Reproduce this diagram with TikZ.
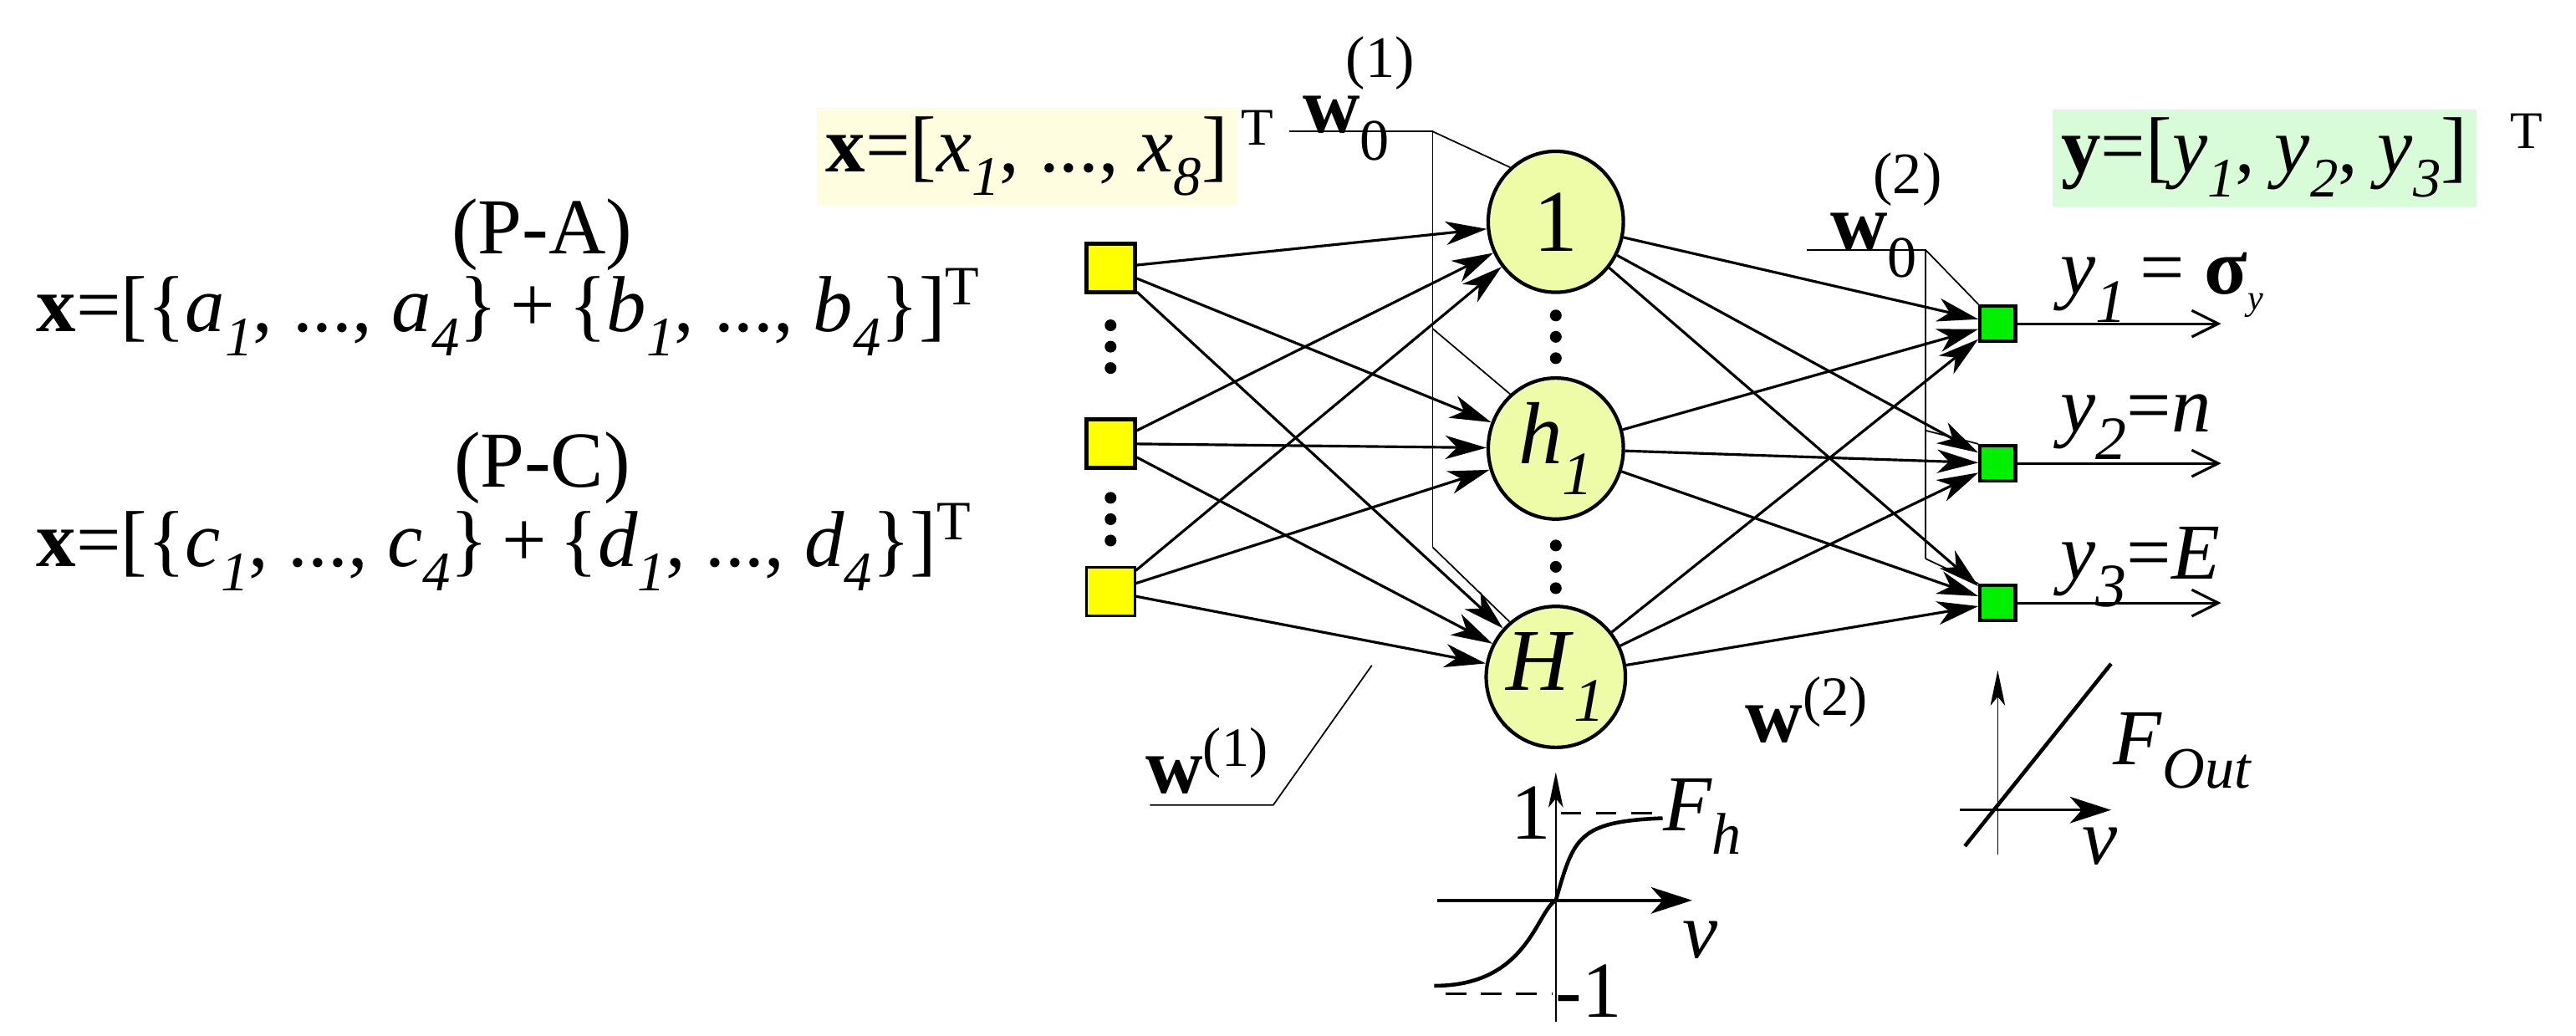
\documentclass[tikz,border=0pt]{standalone}
\usepackage{fontspec}
\setmainfont{Liberation Serif}
\usetikzlibrary{arrows.meta,shapes.geometric}
\definecolor{hid}{HTML}{EEFCA8}
\definecolor{inp}{HTML}{FFFF00}
\definecolor{outc}{HTML}{00F000}
\definecolor{xbg}{HTML}{FEFDE0}
\definecolor{ybg}{HTML}{D8FBD8}
\newcommand{\ti}[1]{\textit{#1}}
\newcommand{\sbi}[1]{\raisebox{-0.3em}{\fontsize{19}{20}\selectfont\textit{#1}}}
\newcommand{\lowsub}[1]{\raisebox{-0.35em}{\fontsize{21}{21}\selectfont\textit{#1}}}
\begin{document}
\begin{tikzpicture}[x=0.01965cm,y=-0.01965cm,
  font=\fontsize{27}{30}\selectfont,
  conn/.style={line width=0.9pt,-{Stealth[length=14pt,width=8pt,inset=4pt]}},
  thin/.style={line width=0.5pt},
  hnode/.style={ellipse,draw,line width=1.2pt,fill=hid,minimum width=46pt,minimum height=48pt,inner sep=0pt,font=\fontsize{30}{30}\selectfont},
  inode/.style={rectangle,draw,line width=1.4pt,fill=inp,minimum size=16.5pt,inner sep=0pt},
  onode/.style={rectangle,draw,line width=1.2pt,fill=outc,minimum size=12pt,inner sep=0pt},
  dot/.style={circle,fill,inner sep=0pt,minimum size=4pt}]
\useasboundingbox (0,0) rectangle (1568,630.5);
% left text
\node (pa) at (330,143) {(P-A)};
\node[anchor=west] (xa) at (16,190) {\textbf{x}=[\{\ti{a}\sbi{1}, ..., \ti{a}\sbi{4}\}\,+\,\{\ti{b}\sbi{1}, ..., \ti{b}\sbi{4}\}]\textsuperscript{T}};
\node (pc) at (330,285) {(P-C)};
\node[anchor=west] (xc) at (16,333) {\textbf{x}=[\{\ti{c}\sbi{1}, ..., \ti{c}\sbi{4}\}\,+\,\{\ti{d}\sbi{1}, ..., \ti{d}\sbi{4}\}]\textsuperscript{T}};
% input / output vector labels
\node[fill=xbg,anchor=west,inner sep=3pt] (xl) at (497,95) {\textbf{x}=[\ti{x}\sbi{1}, ..., \ti{x}\sbi{8}]};
\node[anchor=north west,inner sep=1pt] (xt) at (xl.north east) {\fontsize{18}{20}\selectfont T};
\node[fill=ybg,anchor=west,inner sep=3pt] (yl) at (1249,96) {\textbf{y}=[\ti{y}\sbi{1}, \ti{y}\sbi{2}, \ti{y}\sbi{3}]};
\node (yt) at (1538,80) {\fontsize{18}{20}\selectfont T};
% nodes
\node[inode] (i1) at (676,163) {};
\node[inode] (i2) at (676,270) {};
\node[inode,line width=0.7pt] (i3) at (676,360) {};
\foreach \y in {198,211,224,303,316,329} \node[dot] at (676,\y) {};
\node[hnode] (h1) at (947,135) {1};
\node[hnode] (h2) at (947,273) {\ti{h}\lowsub{1}};
\node[hnode] (h3) at (947,412) {\ti{H}\lowsub{1}};
\foreach \y in {192,205,218,332,345,358} \node[dot] at (947,\y) {};
\node[onode] (o1) at (1216,197) {};
\node[onode] (o2) at (1216,282) {};
\node[onode] (o3) at (1216,367) {};
\foreach \i in {i1,i2,i3} \foreach \h in {h1,h2,h3} \draw[conn] (\i) -- (\h);
\foreach \h in {h1,h2,h3} \foreach \o in {o1,o2,o3} \draw[conn] (\h) -- (\o);
% outputs
\coordinate (e1) at (1352,197); \coordinate (e2) at (1352,282); \coordinate (e3) at (1352,367);
\foreach \o/\e in {o1/e1,o2/e2,o3/e3} \draw[line width=0.9pt,-{Straight Barb[length=9pt,width=9pt]}] (\o) -- (\e);
\node[anchor=west] (y1) at (1248,175) {\ti{y}\lowsub{1}\,= \textbf{σ}\raisebox{-0.2em}{\fontsize{12}{12}\selectfont\ti{y}}};
\node[anchor=west] (y2) at (1248,260) {\ti{y}\lowsub{2}=\ti{n}};
\node[anchor=west] (y3) at (1248,345) {\ti{y}\lowsub{3}=\ti{E}};
% bias 1
\node (w01) at (827,60) {\textbf{w}\raisebox{-0.35em}{\fontsize{20}{20}\selectfont 0}\hspace{-0.55em}\raisebox{0.7em}{\fontsize{20}{20}\selectfont(1)}};
\coordinate (b1a) at (785,80); \coordinate (b1b) at (872,80);
\coordinate (b1c) at (872,200); \coordinate (b1d) at (872,333);
\draw[thin] (b1a) -- (b1b) -- (b1d);
\draw[thin] (b1b) -- (h1.130); \draw[thin] (b1c) -- (h2.130); \draw[thin] (b1d) -- (h3.130);
% bias 2
\node (w02) at (1148,131) {\textbf{w}\raisebox{-0.35em}{\fontsize{20}{20}\selectfont 0}\hspace{-0.55em}\raisebox{0.7em}{\fontsize{20}{20}\selectfont(2)}};
\coordinate (b2a) at (1100,152); \coordinate (b2b) at (1172,152);
\coordinate (b2c) at (1172,262); \coordinate (b2d) at (1172,340);
\draw[thin] (b2a) -- (b2b) -- (b2d);
\draw[thin] (b2b) -- (o1.north west); \draw[thin] (b2c) -- (o2.north west); \draw[thin] (b2d) -- (o3.north west);
% weight labels
\node (w1) at (735,463) {\textbf{w}\textsuperscript{(1)}};
\coordinate (w1a) at (700,490); \coordinate (w1b) at (775,490); \coordinate (w1c) at (835,405);
\draw[thin] (w1a) -- (w1b) -- (w1c);
\node (w2) at (1100,432) {\textbf{w}\textsuperscript{(2)}};
% sigmoid
\coordinate (s0) at (947,548);
\draw[thin,-{Stealth[length=12pt,width=5pt,inset=3pt]}] (947,622) -- (947,470);
\draw[line width=1pt,-{Stealth[length=14pt,width=9pt,inset=4pt]}] (875,548) -- (1030,548);
\draw[line width=0.9pt,dash pattern=on 7pt off 5pt] (950,495) -- (1012,495);
\draw[line width=0.9pt,dash pattern=on 7pt off 5pt] (880,605) -- (945,605);
\draw[line width=1.3pt] (873,600) .. controls (930,600) and (935,555) .. (s0) .. controls (958,510) and (960,500) .. (1012,498);
\node (s1) at (932,495) {1};
\node (sm1) at (967,603) {-1};
\node[anchor=west,inner sep=0pt] (fh) at (1012,497) {\ti{F}\raisebox{-0.3em}{\fontsize{20}{20}\selectfont\ti{h}}};
\node (sv) at (1035,572) {\ti{v}};
% linear
\draw[thin,-{Stealth[length=12pt,width=5pt,inset=3pt]}] (1216,520) -- (1216,408);
\draw[line width=1pt,-{Stealth[length=14pt,width=9pt,inset=4pt]}] (1193,493) -- (1285,493);
\draw[line width=1.3pt] (1196,515) -- (1285,404);
\node[anchor=west,inner sep=0pt] (fo) at (1286,457) {\ti{F}\raisebox{-0.3em}{\fontsize{20}{20}\selectfont\ti{Out}}};
\node (lv) at (1278,515) {\ti{v}};
\end{tikzpicture}
\end{document}
